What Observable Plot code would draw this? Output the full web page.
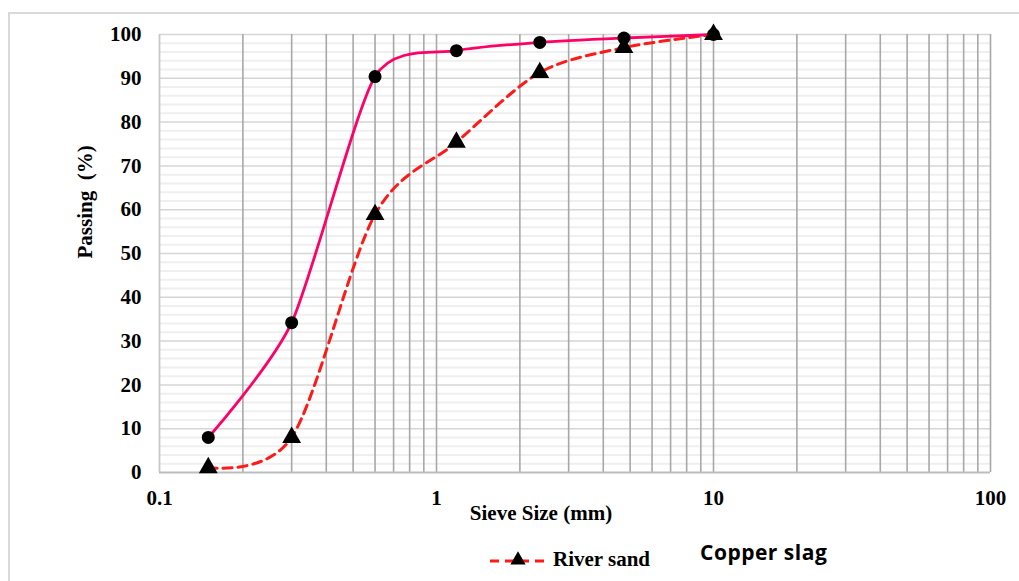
<!DOCTYPE html>
<html>
<head>
<meta charset="utf-8">
<script src="https://cdn.jsdelivr.net/npm/d3@7"></script>
<script src="https://cdn.jsdelivr.net/npm/@observablehq/plot@0.6"></script>
<style>
  html, body { margin: 0; padding: 0; background: #fff; }
  #wrap { position: relative; width: 1019px; height: 581px; overflow: hidden; }
  #frame { position: absolute; left: 8px; top: 12px; width: 1100px; height: 700px; border-left: 2px solid #d9d9d9; border-top: 2px solid #d9d9d9; box-sizing: border-box; }
  #chart { position: absolute; left: 0; top: 0; }
  #legend { position: absolute; left: 0; top: 0; width: 1019px; height: 581px; pointer-events: none; }
  .lg1 { position: absolute; left: 553px; top: 547px; font: bold 21px "Liberation Serif", serif; color: #000; line-height: 24px; }
  .lg2 { position: absolute; left: 700px; top: 539px; font: bold 21px "Open Sans", Lato, sans-serif; color: #000; line-height: 27px; letter-spacing: 0.5px; }
  #lgsym { position: absolute; left: 488px; top: 550px; }
</style>
</head>
<body>
<div id="wrap">
  <div id="frame"></div>
  <div id="chart"></div>
  <div id="legend">
    <svg id="lgsym" width="62" height="20"></svg>
    <div class="lg1">River sand</div>
    <div class="lg2">Copper slag</div>
  </div>
</div>
<script>
// Sieve sizes (mm)
const sieveSizes = [0.15, 0.3, 0.6, 1.18, 2.36, 4.75, 10];
// Percent passing
const copperSlag = [8, 34.2, 90.4, 96.3, 98.2, 99.2, 100];
const riverSand  = [1.1, 8, 58.9, 75.4, 91.3, 97, 100];
// Axis ticks
const xTickLabels = [0.1, 1, 10, 100];
const yTickLabels = [0, 10, 20, 30, 40, 50, 60, 70, 80, 90, 100];

const copperData = sieveSizes.map((s, i) => ({size: s, pass: copperSlag[i]}));
const sandData = sieveSizes.map((s, i) => ({size: s, pass: riverSand[i]}));

const vGrid = [];
for (const dec of [0.1, 1, 10]) for (let k = 1; k <= 9; k++) vGrid.push(+(dec * k).toPrecision(3));
vGrid.push(100);
const hMinor = d3.range(0, 101, 2).filter(v => v % 10 !== 0);

const plot = Plot.plot({
  width: 1019,
  height: 581,
  marginLeft: 159,
  marginRight: 29,
  marginTop: 34,
  marginBottom: 109,
  style: {background: "transparent", fontFamily: "'Liberation Serif', serif"},
  x: {type: "log", domain: [0.1, 100]},
  y: {domain: [0, 100]},
  marks: [
    Plot.ruleY(hMinor, {stroke: "#efefef", strokeWidth: 2}),
    Plot.ruleY(yTickLabels.filter(v => v > 0), {stroke: "#d6d6d6", strokeWidth: 1.5}),
    Plot.ruleX(vGrid.filter(v => v !== 0.1), {stroke: "#a8a8a8", strokeWidth: 1.6}),
    Plot.ruleX([0.1], {stroke: "#c8c8c8", strokeWidth: 1.8}),
    Plot.ruleY([0], {stroke: "#bdbdbd", strokeWidth: 1.8}),
    Plot.axisX({ticks: xTickLabels, tickFormat: d => String(d), tickSize: 0, tickPadding: 18, label: null, fontSize: 21, fontWeight: "bold", fill: "#000"}),
    Plot.axisY({ticks: yTickLabels, tickSize: 0, tickPadding: 18, label: null, fontSize: 21, fontWeight: "bold", fill: "#000"}),
    Plot.text(["Sieve Size (mm)"], {frameAnchor: "bottom", dx: -34, dy: 47, fontSize: 21, fontWeight: "bold", fill: "#000"}),
    Plot.text(["Passing  (%)"], {frameAnchor: "left", rotate: -90, dx: -74, dy: 5, fontSize: 21, fontWeight: "bold", fill: "#000"}),
    Plot.line(sandData, {x: "size", y: "pass", curve: "cardinal", tension: 0.1, stroke: "#ff1a1a", strokeWidth: 3, strokeDasharray: "9,6"}),
    Plot.line(copperData, {x: "size", y: "pass", curve: "cardinal", tension: 0.3, stroke: "#ff0066", strokeWidth: 2.8}),
    Plot.dot(sandData, {x: "size", y: "pass", symbol: "triangle", r: 7, fill: "#000", stroke: "none"}),
    Plot.dot(copperData, {x: "size", y: "pass", symbol: "circle", r: 6.5, fill: "#000", stroke: "none"})
  ]
});
document.getElementById("chart").appendChild(plot);

// legend symbol
const lg = d3.select("#lgsym");
lg.append("line").attr("x1", 2).attr("x2", 60).attr("y1", 11).attr("y2", 11)
  .attr("stroke", "#ff1a1a").attr("stroke-width", 3).attr("stroke-dasharray", "9,6");
lg.append("path").attr("d", d3.symbol(d3.symbolTriangle, 100)()).attr("transform", "translate(30,10)").attr("fill", "#000");
</script>
</body>
</html>
